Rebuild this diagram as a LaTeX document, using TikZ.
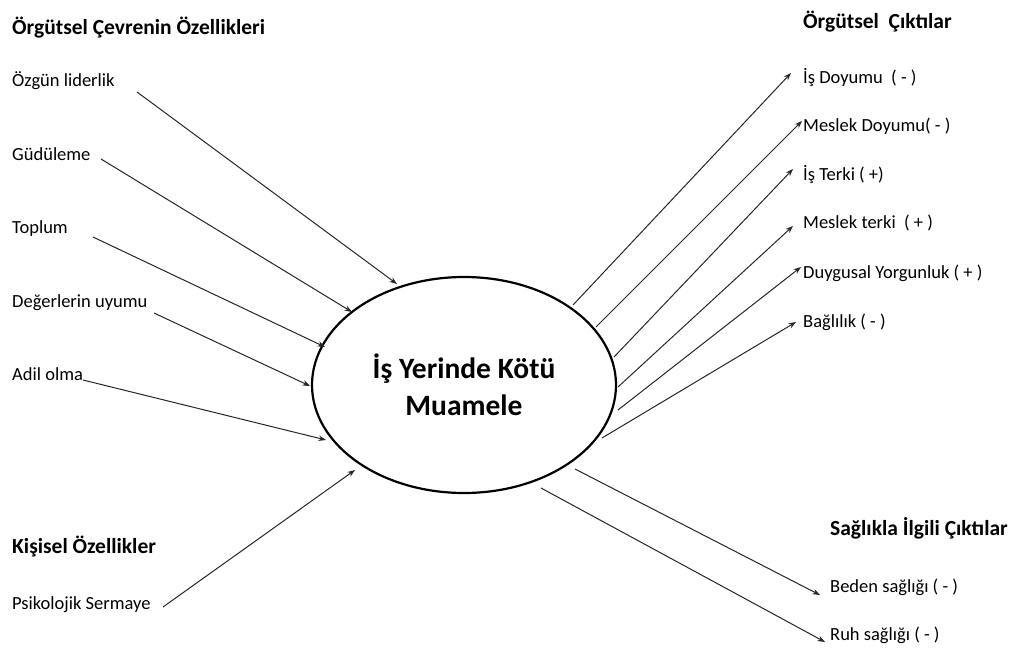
\documentclass[tikz,border=0pt]{standalone}
\usepackage{fontspec}
\setmainfont{Carlito}
\usetikzlibrary{arrows.meta,shapes.geometric}
\begin{document}
\begin{tikzpicture}[x=1pt,y=-1pt,
  head/.style={anchor=base west, inner sep=0pt, font=\fontsize{21.5}{26}\selectfont\bfseries},
  lbl/.style={anchor=base west, inner sep=0pt, font=\fontsize{18.5}{22}\selectfont},
  link/.style={draw=black!85, line width=1pt, -{Stealth[length=7.5pt,width=5.5pt]}},
  core/.style={draw, line width=2.2pt, ellipse, minimum width=304pt, minimum height=216pt,
    inner sep=0pt, align=center, font=\fontsize{29.5}{37}\selectfont\bfseries}]
\useasboundingbox (0,0) rectangle (1026,648);

% central construct
\node[core] (core) at (464,385) {İş Yerinde Kötü\\Muamele};

% organisational antecedents
\node[head] (h1) at (12,34) {Örgütsel Çevrenin Özellikleri};
\node[lbl] (a1) at (12,86) {Özgün liderlik};
\node[lbl] (a2) at (12,160) {Güdüleme};
\node[lbl] (a3) at (12,233) {Toplum};
\node[lbl] (a4) at (12,307) {Değerlerin uyumu};
\node[lbl] (a5) at (12,380) {Adil olma};

% personal antecedents
\node[head] (h2) at (12,553) {Kişisel Özellikler};
\node[lbl] (a6) at (12,609) {Psikolojik Sermaye};

% organisational outcomes
\node[head] (h3) at (803,28) {Örgütsel\ \ Çıktılar};
\node[lbl] (o1) at (803,83) {İş Doyumu\ \ ( - )};
\node[lbl] (o2) at (803,131) {Meslek Doyumu( - )};
\node[lbl] (o3) at (803,180) {İş Terki ( +)};
\node[lbl] (o4) at (803,228) {Meslek terki\ \ ( + )};
\node[lbl] (o5) at (803,278) {Duygusal Yorgunluk ( + )};
\node[lbl] (o6) at (803,327) {Bağlılık ( - )};

% health outcomes
\node[head] (h4) at (830,535) {Sağlıkla İlgili Çıktılar};
\node[lbl] (o7) at (830,592) {Beden sağlığı ( - )};
\node[lbl] (o8) at (830,640) {Ruh sağlığı ( - )};

% connector ends
\coordinate (a1s) at (137,92);  \coordinate (a1e) at (397,284);
\coordinate (a2s) at (101,159); \coordinate (a2e) at (352,312);
\coordinate (a3s) at (93,237);  \coordinate (a3e) at (325,347);
\coordinate (a4s) at (154,313); \coordinate (a4e) at (310,386);
\coordinate (a5s) at (83,380);  \coordinate (a5e) at (326,440);
\coordinate (a6s) at (163,607); \coordinate (a6e) at (355,470);

\coordinate (o1s) at (573,305); \coordinate (o1e) at (791,73);
\coordinate (o2s) at (596,327); \coordinate (o2e) at (802,121);
\coordinate (o3s) at (614,357); \coordinate (o3e) at (793,169);
\coordinate (o4s) at (618,387); \coordinate (o4e) at (793,226);
\coordinate (o5s) at (618,410); \coordinate (o5e) at (801,267);
\coordinate (o6s) at (602,438); \coordinate (o6e) at (796,322);
\coordinate (o7s) at (575,469); \coordinate (o7e) at (820,595);
\coordinate (o8s) at (541,488); \coordinate (o8e) at (825,642);

\foreach \n in {a1,a2,a3,a4,a5,a6,o1,o2,o3,o4,o5,o6,o7,o8}
  \draw[link] (\n s) -- (\n e);
\end{tikzpicture}
\end{document}
